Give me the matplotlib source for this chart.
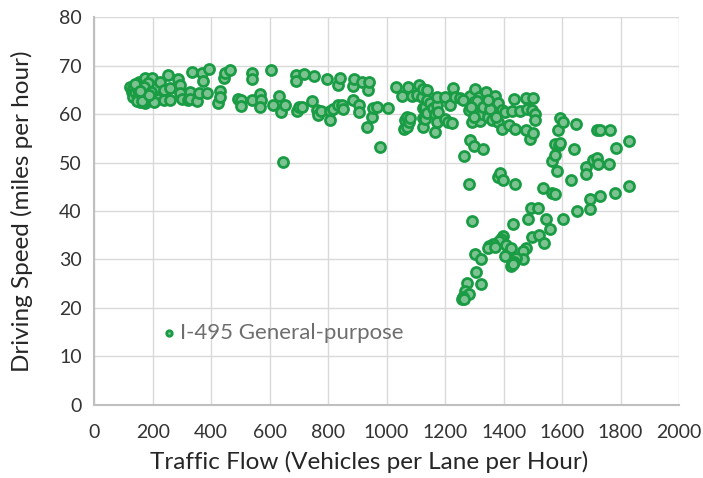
import numpy as np
import matplotlib
matplotlib.use("Agg")
import matplotlib.pyplot as plt

plt.rcParams['font.family'] = ['Lato', 'DejaVu Sans']

# flow (vehicles per lane per hour) and speed (mph)
flow = [
    123, 129, 134, 134, 140, 146, 152, 152, 157, 163, 163, 169, 174, 174, 180, 186,
    191, 197, 197, 203, 209, 214, 217, 145, 160, 185, 170, 150, 178, 140, 195, 205,
    165, 188, 155,
    226, 237, 237, 254, 258, 260, 285, 292, 294, 300, 320, 328, 328, 334, 353, 357,
    368, 371, 387, 394, 425, 429, 431, 445, 448, 465, 491, 501, 501, 539, 539, 540,
    567, 572, 567, 605, 613, 631, 639, 644, 654, 690, 690, 694, 701, 711, 719, 746,
    753, 762, 764, 777, 797, 807, 807, 816, 832, 835, 840, 849, 852, 884, 886, 888,
    907, 907, 916, 933, 937, 941, 951, 952, 968, 978, 1006, 1032, 1054, 1058, 1063,
    1069, 1069, 1073, 1075, 1080, 1087, 1103, 1111, 1120, 1126, 1126, 1126, 1126,
    1132, 1132, 1137, 1137, 1137, 1149, 1160, 1166, 1166, 1171, 1171, 1171, 1177,
    1200, 1200, 1211, 1217, 1223, 1228, 1234, 1251, 1263, 1280, 1283, 1285, 1285,
    1291, 1292, 1297, 1297, 1303, 1303, 1317, 1320, 1320, 1325, 1331, 1340, 1342,
    1348, 1348, 1360, 1365, 1371, 1371, 1382, 1382, 1394, 1394, 1405, 1420, 1428,
    1434, 1439, 1456, 1477, 1479, 1477, 1491, 1496, 1500, 1502, 1508, 1508,
    1260, 1310, 1330, 1355, 1290, 1345, 1300, 1375,
    1382, 1388, 1399, 1439, 1536, 1565, 1576, 1565, 1576, 1576, 1582, 1586, 1589,
    1593, 1593, 1602, 1631, 1641, 1646, 1651, 1682, 1682, 1696, 1697, 1707, 1718,
    1718, 1724, 1730, 1730, 1762, 1764, 1781, 1785, 1827, 1830, 1603, 1494, 1516,
    1485, 1546, 1559, 1432, 1497, 1521, 1538, 1399, 1390, 1385, 1365, 1351, 1346,
    1371, 1409, 1425, 1475, 1467, 1466, 1302, 1322, 1406, 1443, 1434, 1425, 1431,
    1306, 1275, 1322, 1268, 1281, 1261, 1256, 1263,
]
speed = [
    65.6, 64.6, 65.3, 63.6, 64.6, 66.0, 63.9, 66.7, 62.5, 65.0, 66.3, 63.6, 62.2, 67.4, 64.6, 62.9,
    65.6, 63.2, 67.5, 64.3, 65.3, 63.2, 63.2, 62.8, 64.2, 66.5, 65.5, 65.0, 63.0, 66.2, 64.5, 62.6,
    62.8, 64.0, 64.8,
    66.7, 65.0, 62.9, 68.0, 62.9, 65.3, 67.2, 66.0, 64.3, 63.1, 62.9, 64.5, 63.2, 68.7, 62.7, 64.3,
    68.4, 66.8, 64.3, 69.3, 62.2, 64.7, 63.6, 67.4, 68.5, 69.1, 63.2, 62.9, 61.7, 68.4, 67.3, 63.0,
    64.1, 62.9, 61.4, 69.1, 61.8, 63.7, 60.5, 50.2, 61.9, 68.0, 66.8, 60.7, 61.4, 61.5, 68.2, 62.7,
    67.8, 60.8, 59.8, 60.6, 67.2, 60.7, 58.8, 61.0, 61.9, 66.0, 67.4, 61.8, 61.0, 65.8, 63.0, 67.3,
    61.8, 60.5, 66.6, 57.4, 65.0, 66.7, 59.5, 61.2, 61.4, 53.3, 61.2, 65.6, 63.7, 57.0, 58.8,
    59.4, 57.4, 65.6, 58.4, 59.2, 63.8, 63.9, 66.1, 63.6, 65.1, 61.2, 59.1, 57.4,
    61.5, 58.9, 62.9, 64.9, 60.3, 62.2, 61.2, 60.1, 56.4, 61.9, 63.6, 58.4, 60.5,
    63.6, 58.9, 58.4, 61.9, 58.1, 65.3, 63.6, 63.4, 51.3, 45.5, 60.8, 63.7, 54.6,
    58.4, 37.9, 62.5, 53.4, 65.1, 60.1, 63.6, 62.2, 58.6, 60.1, 52.9, 64.6, 62.2,
    60.5, 59.5, 58.8, 62.2, 63.7, 60.5, 62.2, 58.4, 60.8, 57.0, 60.5, 57.7, 60.7,
    63.2, 57.0, 60.7, 63.4, 61.0, 56.7, 54.8, 60.8, 56.2, 63.4, 60.1, 58.8,
    63.0, 62.8, 61.5, 61.0, 61.5, 63.0, 59.5, 59.5,
    47.0, 47.9, 46.4, 45.5, 44.8, 43.8, 43.5, 50.3, 51.6, 53.9, 48.2, 56.8, 53.6,
    54.1, 59.1, 58.4, 46.4, 52.9, 57.9, 40.1, 49.1, 47.6, 42.4, 40.5, 50.5, 50.9,
    56.8, 49.8, 56.7, 43.0, 49.7, 56.8, 43.8, 53.1, 45.2, 54.5, 38.4, 40.6, 40.6,
    38.4, 38.4, 36.3, 37.3, 34.6, 35.0, 33.4, 34.8, 34.3, 33.8, 33.2, 32.8, 32.3,
    32.6, 33.0, 32.3, 32.4, 31.8, 30.2, 31.2, 30.0, 30.7, 30.3, 29.5, 28.7, 29.1,
    27.4, 25.2, 24.9, 23.4, 22.9, 22.3, 21.9, 21.8,
]

xticks = np.arange(0, 2001, 200)
yticks = np.arange(0, 81, 10)

fig = plt.figure(figsize=(7.03, 4.78), dpi=100)
ax = fig.add_axes([0.134, 0.153, 0.832, 0.811])

ax.scatter(flow, speed, s=52, marker='o', facecolor='#7cc391', edgecolor='#1a9c45',
           linewidth=2.0, zorder=3, label='I-495 General-purpose')

ax.set_xlim(0, 2000)
ax.set_ylim(0, 80)
ax.set_xticks(xticks)
ax.set_yticks(yticks)
ax.grid(True, color='#d9d9d9', linewidth=1.0, zorder=0)
ax.set_axisbelow(True)
for s in ['top', 'right']:
    ax.spines[s].set_visible(False)
for s in ['left', 'bottom']:
    ax.spines[s].set_color('#bfbfbf')
    ax.spines[s].set_linewidth(1.5)
ax.tick_params(axis='both', length=0, labelsize=14, colors='#333333')
ax.tick_params(axis='x', pad=14)
ax.tick_params(axis='y', pad=9)

ax.set_xlabel('Traffic Flow (Vehicles per Lane per Hour)', fontsize=17.5, color='#262626')
ax.set_ylabel('Driving Speed (miles per hour)', fontsize=17.5, color='#262626')
ax.xaxis.set_label_coords(0.47, -0.12)
ax.yaxis.set_label_coords(-0.105, 0.5)

leg = ax.legend(loc='center left', bbox_to_anchor=(0.09, 0.185), frameon=False,
                fontsize=16, markerscale=0.55, handletextpad=0.0, borderpad=0,
                handlelength=1.0)
for t in leg.get_texts():
    t.set_color('#6e6e6e')

fig.savefig('out.png', dpi=100)
